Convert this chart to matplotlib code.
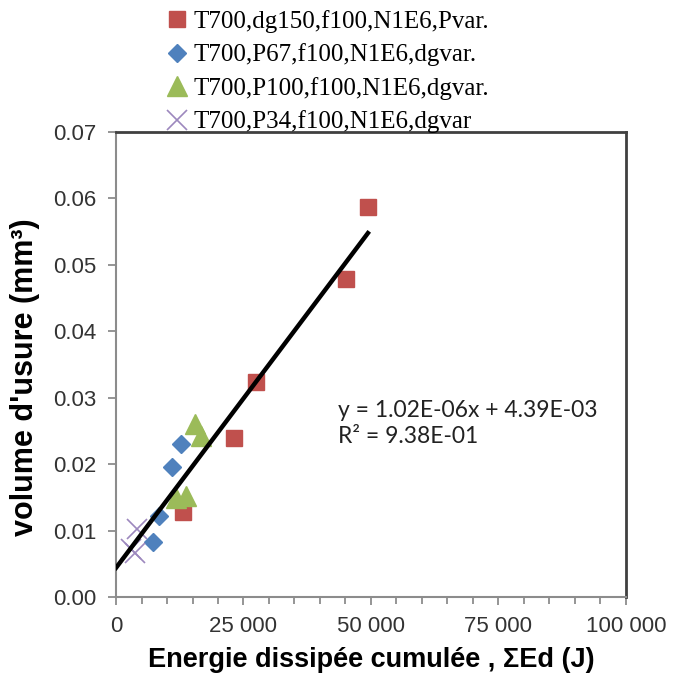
import numpy as np
import matplotlib
matplotlib.use('Agg')
import matplotlib.pyplot as plt
from matplotlib.ticker import MultipleLocator, FuncFormatter

# données
labels = ['T700,dg150,f100,N1E6,Pvar.',
          'T700,P67,f100,N1E6,dgvar.',
          'T700,P100,f100,N1E6,dgvar.',
          'T700,P34,f100,N1E6,dgvar']
red_x = [49400, 45100, 27450, 23150, 13100]
red_y = [0.0587, 0.0478, 0.0324, 0.0240, 0.0128]
blue_x = [12700, 11000, 8450, 7200]
blue_y = [0.0231, 0.0195, 0.0122, 0.0083]
green_x = [15500, 16700, 11800, 13700]
green_y = [0.0260, 0.0243, 0.0149, 0.0152]
purple_x = [4100, 3000, 3700]
purple_y = [0.0103, 0.0072, 0.0066]
slope = 1.02e-06
intercept = 4.39e-03
eq_text = 'y = 1.02E-06x + 4.39E-03\nR² = 9.38E-01'

fig = plt.figure(figsize=(6.73, 6.77), dpi=100)
ax = fig.add_axes([0.1724, 0.1182, 0.7576, 0.6868])

ax.plot(red_x, red_y, 's', color='#C0504D', markersize=12, label=labels[0], zorder=3)
ax.plot(blue_x, blue_y, 'D', color='#4F81BD', markersize=9, label=labels[1], zorder=3)
ax.plot(green_x, green_y, '^', color='#9BBB59', markersize=14, label=labels[2], zorder=3)
ax.plot(purple_x, purple_y, 'x', color='#9C88BE', markersize=14, markeredgewidth=1.2,
        label=labels[3], zorder=3)

# courbe de tendance
xt = np.array([0, max(red_x)])
ax.plot(xt, slope * xt + intercept, '-', color='black', linewidth=3.2, zorder=4)

fig.text(338 / 673, 1 - 400 / 677, eq_text, fontsize=16.5, family='Lato',
         color='#222222', va='top', linespacing=1.32)

ax.set_xlim(0, 100000)
ax.set_ylim(0, 0.07)
ax.xaxis.set_major_locator(MultipleLocator(25000))
ax.xaxis.set_minor_locator(MultipleLocator(5000))
ax.yaxis.set_major_locator(MultipleLocator(0.01))
ax.xaxis.set_major_formatter(FuncFormatter(lambda v, p: f'{int(v):,}'.replace(',', ' ')))
ax.yaxis.set_major_formatter(FuncFormatter(lambda v, p: f'{v:.2f}'))

for s in ['left', 'bottom']:
    ax.spines[s].set_color('#8C8C8C')
    ax.spines[s].set_linewidth(1.5)
for s in ['top', 'right']:
    ax.spines[s].set_color('#404040')
    ax.spines[s].set_linewidth(2)

ax.tick_params(axis='both', which='major', direction='out', length=6, width=1.3,
               color='#8C8C8C', labelsize=16, labelcolor='#333333', pad=8)
ax.tick_params(axis='x', which='minor', direction='out', length=5, width=1.3, color='#8C8C8C')
for t in ax.get_xticklabels() + ax.get_yticklabels():
    t.set_family('Liberation Sans')

ax.set_xlabel('Energie dissipée cumulée , ΣEd (J)', fontsize=19.5, fontweight='bold',
              family='Liberation Sans', labelpad=7)
ax.set_ylabel("volume d'usure (mm³)", fontsize=22, fontweight='bold',
              family='Liberation Sans', labelpad=3)
ax.yaxis.set_label_coords(-0.15, 0.473)

fig.legend(loc='upper left', bbox_to_anchor=(0.232, 1.0), frameon=False,
           prop={'family': 'Liberation Serif', 'size': 18}, handlelength=0.9,
           handletextpad=0.2, labelspacing=0.42, borderaxespad=0)

fig.savefig('out.png', dpi=100)
